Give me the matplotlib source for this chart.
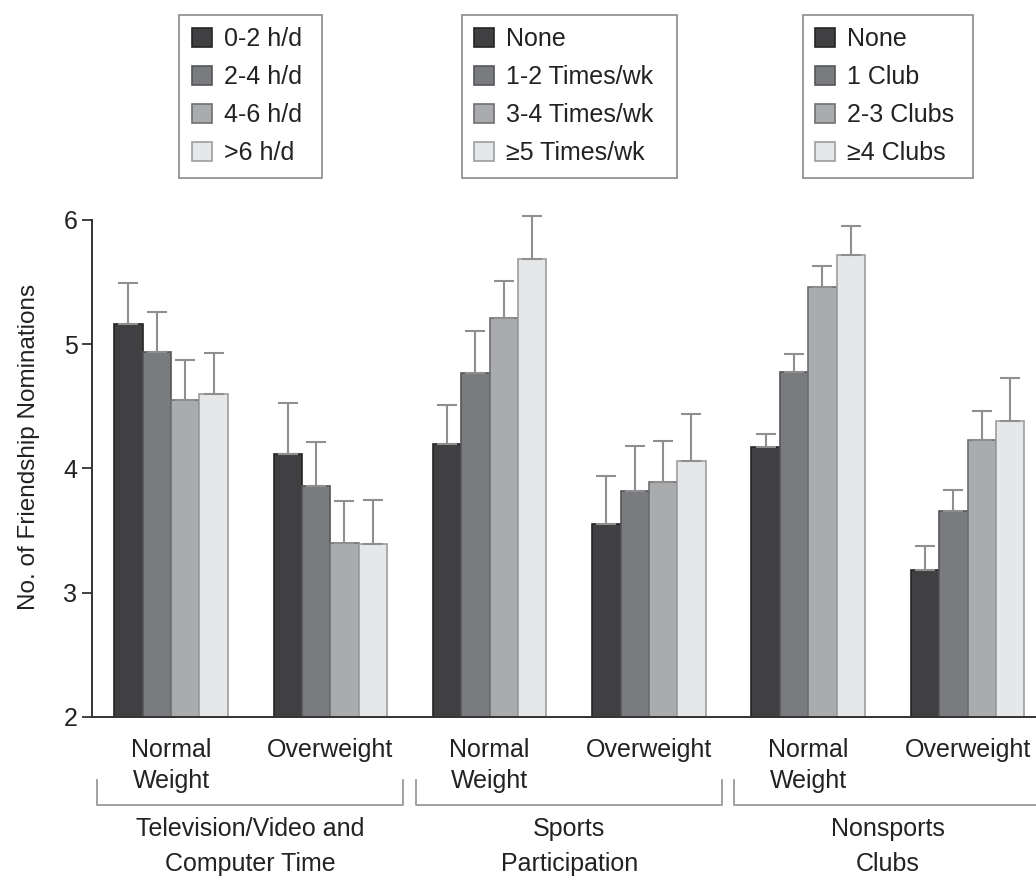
import numpy as np
import matplotlib
matplotlib.use("Agg")
import matplotlib.pyplot as plt
from matplotlib.patches import Patch
from matplotlib.transforms import blended_transform_factory

plt.rcParams['font.family'] = ['Liberation Sans', 'DejaVu Sans']

# x categories: weight status inside each activity domain
weight_labels = ["Normal\nWeight", "Overweight"] * 3
domain_titles = ["Television/Video and\nComputer Time",
                 "Sports\nParticipation",
                 "Nonsports\nClubs"]

# legend labels per domain (4 activity levels each)
tv_levels = ["0-2 h/d", "2-4 h/d", "4-6 h/d", ">6 h/d"]
sport_levels = ["None", "1-2 Times/wk", "3-4 Times/wk", "\u22655 Times/wk"]
club_levels = ["None", "1 Club", "2-3 Clubs", "\u22654 Clubs"]

# mean friendship nominations, one array per activity level,
# ordered TV-NW, TV-OW, Sport-NW, Sport-OW, Club-NW, Club-OW
level1 = [5.16, 4.12, 4.20, 3.55, 4.17, 3.18]
level2 = [4.94, 3.86, 4.77, 3.82, 4.78, 3.66]
level3 = [4.55, 3.40, 5.21, 3.89, 5.46, 4.23]
level4 = [4.60, 3.39, 5.69, 4.06, 5.72, 4.38]

# standard errors (upper bars only)
err1 = [0.33, 0.41, 0.31, 0.39, 0.11, 0.20]
err2 = [0.32, 0.35, 0.34, 0.36, 0.14, 0.17]
err3 = [0.32, 0.34, 0.30, 0.33, 0.17, 0.23]
err4 = [0.33, 0.36, 0.34, 0.38, 0.23, 0.35]

fills = ['#404042', '#7a7b7e', '#aaabad', '#e6e7e8']
edges = ['#252525', '#555658', '#6f7072', '#9c9d9f']

fig = plt.figure(figsize=(10.36, 8.81), dpi=100)
ax = fig.add_axes([0.0888, 0.1862, 0.9112, 0.5641])

x = np.arange(len(weight_labels))
width = 0.178
series = [(level1, err1), (level2, err2), (level3, err3), (level4, err4)]
for i, (vals, errs) in enumerate(series):
    bars = ax.bar(x + (i - 1.5) * width, vals, width,
                  color=fills[i], edgecolor=edges[i], linewidth=1.2,
                  yerr=[np.zeros(len(errs)), errs], capsize=7,
                  error_kw=dict(ecolor='#8f8f8f', elinewidth=1.5, capthick=1.5))
    # let caps above the top of the y range stay visible
    for art in bars.errorbar.get_children():
        art.set_clip_on(False)

ax.set_xlim(-0.496, 5.43)
ax.set_ylim(2, 6)
ax.set_yticks([2, 3, 4, 5, 6])
ax.set_xticks(x)
ax.set_xticklabels(weight_labels, fontsize=18, color='#222222', linespacing=1.4)
ax.tick_params(axis='x', length=0, pad=15)
ax.tick_params(axis='y', length=7, width=1.3, pad=3.5, labelsize=18,
               color='#333333', labelcolor='#222222')
for side in ['top', 'right']:
    ax.spines[side].set_visible(False)
for side in ['left', 'bottom']:
    ax.spines[side].set_color('#333333')
    ax.spines[side].set_linewidth(1.4)

ax.set_ylabel("No. of Friendship Nominations", fontsize=17.5, color='#222222')
ax.yaxis.set_label_coords(-0.055, 0.543)

# brackets grouping the two weight categories of each domain
trans = blended_transform_factory(ax.transData, ax.transAxes)
for g, title in enumerate(domain_titles):
    left, right = 2 * g - 0.465, 2 * g + 1.457
    ax.plot([left, left, right, right], [-0.127, -0.177, -0.177, -0.127],
            transform=trans, color='#9a9a9a', lw=1.3, clip_on=False)
    ax.text(2 * g + 0.5, -0.202, title, transform=trans, ha='center', va='top',
            fontsize=18, color='#222222', linespacing=1.55)

# one legend box per domain along the top
boxes = [(tv_levels, 0.1728, 0.138), (sport_levels, 0.4459, 0.2075),
         (club_levels, 0.775, 0.164)]
for labels, left, w in boxes:
    handles = [Patch(facecolor=fills[i], edgecolor=edges[i], linewidth=1.2)
               for i in range(4)]
    leg = fig.legend(handles, labels, loc='upper left', mode='expand',
                     bbox_to_anchor=(left, 0.983 - 0.2, w, 0.2),
                     bbox_transform=fig.transFigure, borderaxespad=0,
                     fontsize=18, handlelength=0.8, handleheight=0.8,
                     handletextpad=0.48, labelspacing=0.56, borderpad=0.5,
                     fancybox=False, framealpha=1)
    leg.get_frame().set_edgecolor('#8a8a8a')
    leg.get_frame().set_linewidth(1.2)
    for t in leg.get_texts():
        t.set_color('#222222')

fig.savefig("out.png", dpi=100)
